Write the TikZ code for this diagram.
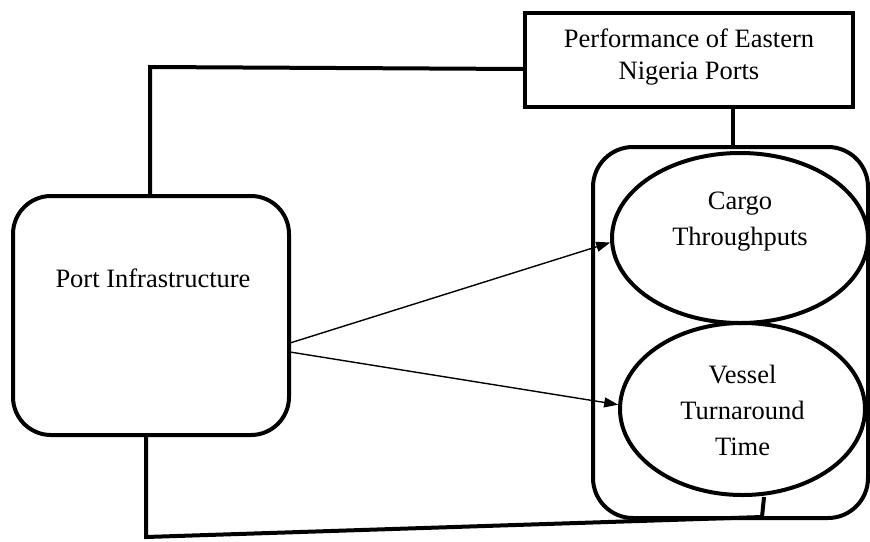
\documentclass[tikz,border=0pt]{standalone}
\usepackage{fontspec}
\setmainfont{Liberation Serif}
\usetikzlibrary{shapes.geometric,arrows.meta}
\begin{document}
\begin{tikzpicture}[x=1pt,y=-1pt,
  thickline/.style={line width=4pt},
  boxrect/.style={draw,thickline,rectangle,inner sep=0pt},
  roundbox/.style={draw,thickline,rectangle,rounded corners=38pt,inner sep=0pt},
  oval/.style={draw,thickline,ellipse,inner sep=0pt},
  txt/.style={font=\fontsize{26.5pt}{32pt}\selectfont,align=center,inner sep=0pt},
  txtb/.style={font=\fontsize{26.5pt}{36pt}\selectfont,align=center,inner sep=0pt},
  conn/.style={thickline,line join=miter},
  arr/.style={line width=1.4pt,-{Triangle[length=14pt,width=10pt]}}]
\useasboundingbox (0,0) rectangle (870,541);

% boxes
\node[boxrect,minimum width=328pt,minimum height=94pt] (perf) at (689,60) {};
\node[txt] (perftext) at (689,57) {Performance of Eastern\\Nigeria Ports};

\node[roundbox,minimum width=276pt,minimum height=239pt] (pi) at (151,315.5) {};
\node[txt] (pitext) at (153,278) {Port Infrastructure};

\node[roundbox,rounded corners=40pt,minimum width=275pt,minimum height=371pt] (cont) at (730.5,332.5) {};

\node[oval,minimum width=256pt,minimum height=170pt] (cargo) at (740,238) {};
\node[txtb] (cargotext) at (740,222) {Cargo\\Throughputs};

\node[oval,minimum width=245pt,minimum height=172pt] (vessel) at (742.5,409) {};
\node[txtb] (vesseltext) at (742.5,410) {Vessel\\Turnaround\\Time};

% connectors
\coordinate (c1) at (150,67);
\draw[conn] (pi.north -| c1) -- (c1) -- (perf.west |- 0,69);

\coordinate (c2) at (733,0);
\draw[conn] (perf.south -| c2) -- (cont.north -| c2);

\coordinate (v1) at (764,497);
\coordinate (v2) at (762,517);
\coordinate (b1) at (146,537);
\draw[conn] (v1) -- (v2) -- (b1) -- (pi.south -| b1);

% arrows
\coordinate (a1) at (290,343);
\coordinate (a2) at (290,352);
\draw[arr] (a1) -- (cargo.182);
\draw[arr] (a2) -- (vessel.178);
\end{tikzpicture}
\end{document}
